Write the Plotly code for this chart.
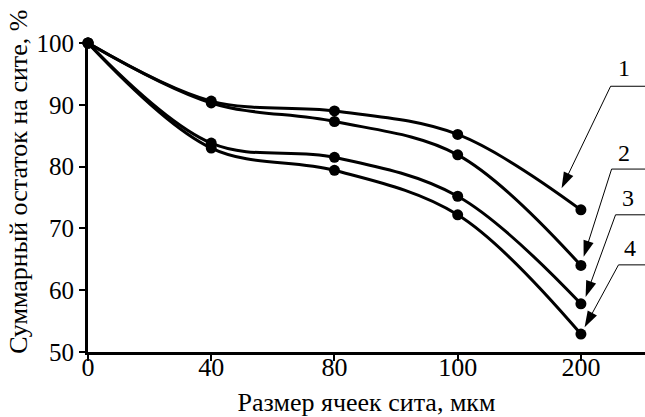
import plotly.graph_objects as go

x_labels = ["0", "40", "80", "100", "200"]
x_pos = [0, 1, 2, 3, 4]
series_1 = [100, 90.6, 89.0, 85.2, 73.0]
series_2 = [100, 90.3, 87.3, 81.9, 64.0]
series_3 = [100, 83.8, 81.5, 75.2, 57.8]
series_4 = [100, 83.0, 79.4, 72.2, 52.9]
series_names = ["1", "2", "3", "4"]
y_ticks = [50, 60, 70, 80, 90, 100]
y_title = "Суммарный остаток на сите, %"
x_title = "Размер ячеек сита, мкм"

# leader callouts: (text pos), (tail), (tip)
callouts = [
    dict(name="1", text=(4.35, 96.0), tail=(4.241, 93.0), tip=(3.843, 76.5)),
    dict(name="2", text=(4.35, 82.2), tail=(4.249, 79.6), tip=(4.022, 65.4)),
    dict(name="3", text=(4.38, 74.9), tail=(4.281, 72.2), tip=(4.038, 58.9)),
    dict(name="4", text=(4.40, 66.9), tail=(4.305, 64.1), tip=(4.030, 54.0)),
]

FONT = "'Liberation Serif', 'Times New Roman', Times, 'DejaVu Serif', serif"
fig = go.Figure()
for ys in [series_1, series_2, series_3, series_4]:
    fig.add_trace(go.Scatter(
        x=x_pos, y=ys, mode="lines+markers",
        line=dict(color="black", width=3, shape="spline", smoothing=1.0),
        marker=dict(color="black", size=11),
        cliponaxis=False, showlegend=False, hoverinfo="skip"))

for c in callouts:
    # thin leader with arrowhead
    fig.add_trace(go.Scatter(
        x=[c["tail"][0], c["tip"][0]], y=[c["tail"][1], c["tip"][1]],
        mode="lines+markers",
        line=dict(color="black", width=1),
        marker=dict(symbol="arrow", size=[0, 17], color="black", opacity=1,
                    angleref="previous", line=dict(width=0)),
        cliponaxis=False, showlegend=False, hoverinfo="skip"))
    fig.add_shape(type="line", xref="x", yref="y",
                  x0=c["tail"][0], x1=4.52, y0=c["tail"][1], y1=c["tail"][1],
                  line=dict(color="black", width=1))
    fig.add_annotation(x=c["text"][0], y=c["text"][1], xref="x", yref="y",
                       text=c["name"], showarrow=False,
                       font=dict(family=FONT, size=24, color="black"))

# y-axis title as rotated annotation
fig.add_annotation(x=-0.126, y=0.55, xref="paper", yref="paper",
                   text=y_title, textangle=-90, showarrow=False,
                   xanchor="center", yanchor="middle",
                   font=dict(family=FONT, size=26, color="black"))

fig.update_layout(
    width=645, height=417,
    margin=dict(l=88, r=0, t=43, b=65),
    paper_bgcolor="white", plot_bgcolor="white",
    font=dict(family=FONT, size=24, color="black"),
)
fig.update_xaxes(
    range=[0, 4.52], tickvals=x_pos, ticktext=x_labels,
    showgrid=False, zeroline=False, showline=True, linecolor="black", linewidth=3,
    ticks="outside", ticklen=6, tickwidth=2, tickcolor="black",
    tickfont=dict(family=FONT, size=26), ticklabelstandoff=-16,
    title=dict(text=x_title, font=dict(family=FONT, size=26), standoff=14),
)
fig.update_yaxes(
    range=[50, 100], tickvals=y_ticks,
    showgrid=False, zeroline=False, showline=True, linecolor="black", linewidth=3,
    ticks="outside", ticklen=6, tickwidth=2, tickcolor="black",
    tickfont=dict(family=FONT, size=25),
)
fig.write_html("out.html", config={"displayModeBar": False},
               post_script="document.body.style.margin='0';document.body.style.overflow='hidden';")
